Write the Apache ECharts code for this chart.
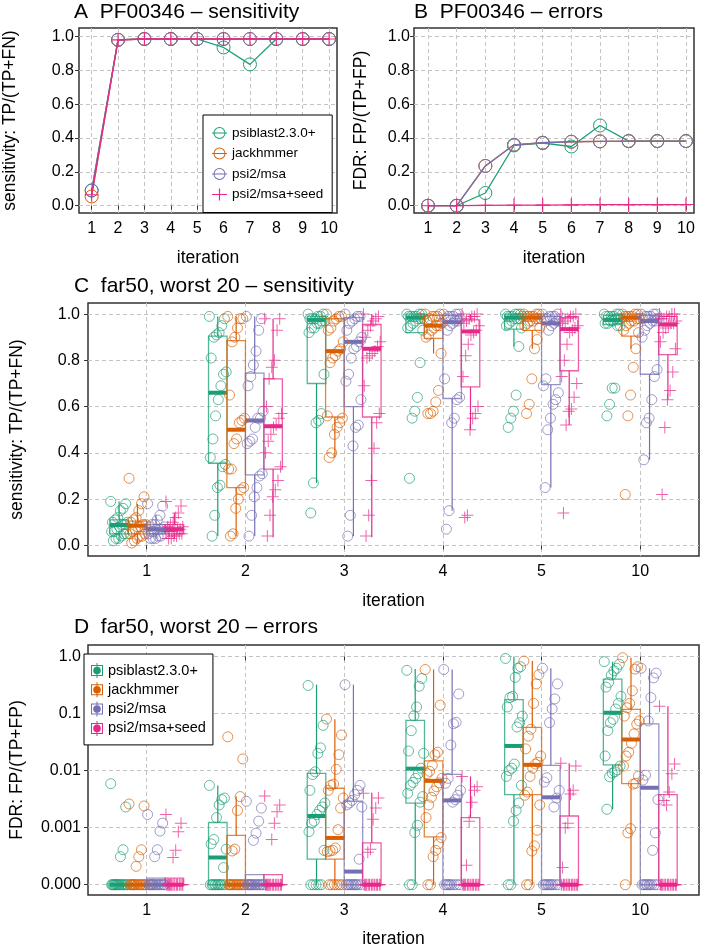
<!DOCTYPE html>
<html><head><meta charset="utf-8">
<script src="https://cdn.jsdelivr.net/npm/echarts@6/dist/echarts.min.js"></script>
<style>html,body{margin:0;padding:0;background:#fff}#c{width:702px;height:949px}</style>
</head><body><div id="c"></div>
<script>
// ---------------- data ----------------
const methodNames = ['psiblast2.3.0+', 'jackhmmer', 'psi2/msa', 'psi2/msa+seed'];

// Panel A / B (PF00346)
const iterA = [1, 2, 3, 4, 5, 6, 7, 8, 9, 10];
const aPsiblast = [0.09, 0.98, 0.985, 0.985, 0.985, 0.935, 0.835, 0.985, 0.985, 0.985];
const aJack     = [0.055, 0.98, 0.985, 0.985, 0.985, 0.985, 0.985, 0.985, 0.985, 0.985];
const aPsi2     = [0.09, 0.98, 0.985, 0.985, 0.985, 0.985, 0.985, 0.985, 0.985, 0.985];
const aSeed     = [0.065, 0.98, 0.985, 0.985, 0.985, 0.985, 0.985, 0.985, 0.985, 0.985];
const bPsiblast = [0, 0, 0.075, 0.356, 0.37, 0.35, 0.474, 0.382, 0.382, 0.382];
const bJack     = [0, 0, 0.235, 0.36, 0.372, 0.378, 0.38, 0.382, 0.382, 0.382];
const bPsi2     = [0, 0, 0.235, 0.36, 0.372, 0.378, 0.38, 0.382, 0.382, 0.382];
const bSeed     = [0, 0, 0.002, 0.003, 0.004, 0.005, 0.006, 0.006, 0.006, 0.007];
const yTicksAB  = [0, 0.2, 0.4, 0.6, 0.8, 1.0];

// Panels C / D (far50, worst 20): iteration categories
const iterC = ['1', '2', '3', '4', '5', '10'];

// C: sensitivity points per iteration
const cPsiblast = [
  [0.19,0.18,0.16,0.15,0.12,0.11,0.10,0.10,0.09,0.09,0.08,0.07,0.06,0.06,0.05,0.05,0.04,0.03,0.03,0.02],
  [0.99,0.98,0.95,0.92,0.91,0.90,0.81,0.75,0.74,0.69,0.63,0.56,0.46,0.38,0.35,0.34,0.26,0.25,0.13,0.04],
  [1.0,1.0,0.99,0.99,0.98,0.98,0.98,0.97,0.97,0.96,0.96,0.94,0.94,0.92,0.74,0.57,0.54,0.53,0.27,0.14],
  [1.0,1.0,1.0,0.99,0.99,0.99,0.99,0.98,0.98,0.98,0.97,0.96,0.95,0.94,0.93,0.79,0.64,0.58,0.55,0.29],
  [1.0,1.0,1.0,1.0,0.99,0.99,0.99,0.99,0.98,0.98,0.98,0.97,0.96,0.95,0.94,0.86,0.65,0.58,0.55,0.51],
  [1.0,1.0,1.0,0.99,0.99,0.99,0.99,0.98,0.98,0.98,0.97,0.97,0.96,0.96,0.95,0.95,0.68,0.68,0.61,0.56]
];
const cJack = [
  [0.29,0.21,0.18,0.15,0.12,0.11,0.10,0.09,0.09,0.08,0.08,0.07,0.06,0.05,0.05,0.04,0.04,0.03,0.02,0.01],
  [0.99,0.98,0.98,0.94,0.90,0.88,0.65,0.55,0.54,0.53,0.46,0.44,0.33,0.33,0.25,0.24,0.20,0.16,0.05,0.04],
  [1.0,0.99,0.99,0.98,0.97,0.94,0.93,0.88,0.85,0.84,0.82,0.81,0.79,0.56,0.55,0.53,0.51,0.48,0.40,0.38],
  [1.0,1.0,0.99,0.99,0.99,0.98,0.97,0.96,0.95,0.95,0.94,0.93,0.91,0.90,0.83,0.67,0.62,0.58,0.57,0.57],
  [1.0,1.0,1.0,0.99,0.99,0.99,0.99,0.98,0.98,0.98,0.97,0.97,0.96,0.95,0.94,0.89,0.85,0.72,0.61,0.57],
  [1.0,1.0,1.0,0.99,0.99,0.99,0.99,0.98,0.98,0.97,0.97,0.96,0.95,0.93,0.92,0.85,0.77,0.65,0.56,0.22]
];
const cPsi2 = [
  [0.18,0.17,0.13,0.11,0.09,0.09,0.08,0.08,0.07,0.07,0.07,0.06,0.06,0.05,0.05,0.04,0.04,0.03,0.03,0.03],
  [0.99,0.98,0.93,0.84,0.78,0.73,0.69,0.58,0.55,0.55,0.51,0.46,0.45,0.44,0.31,0.30,0.25,0.21,0.13,0.04],
  [1.0,0.99,0.99,0.98,0.97,0.96,0.93,0.90,0.88,0.86,0.85,0.81,0.74,0.71,0.63,0.52,0.51,0.43,0.13,0.04],
  [1.0,1.0,1.0,0.99,0.99,0.99,0.98,0.98,0.97,0.97,0.96,0.95,0.93,0.72,0.64,0.63,0.55,0.53,0.15,0.07],
  [1.0,1.0,0.99,0.99,0.99,0.98,0.98,0.97,0.97,0.96,0.95,0.93,0.72,0.69,0.66,0.63,0.61,0.55,0.50,0.25],
  [1.0,1.0,1.0,0.99,0.99,0.99,0.98,0.98,0.97,0.97,0.96,0.95,0.93,0.90,0.76,0.73,0.63,0.55,0.53,0.37]
];
const cSeed = [
  [0.19,0.17,0.14,0.12,0.10,0.09,0.08,0.08,0.07,0.07,0.07,0.06,0.06,0.06,0.05,0.05,0.04,0.04,0.03,0.03],
  [0.98,0.98,0.93,0.80,0.77,0.72,0.60,0.57,0.55,0.52,0.51,0.48,0.45,0.40,0.34,0.28,0.24,0.21,0.13,0.04],
  [1.0,0.99,0.98,0.97,0.95,0.93,0.90,0.88,0.86,0.84,0.83,0.82,0.81,0.69,0.57,0.53,0.42,0.28,0.13,0.04],
  [1.0,1.0,0.99,0.99,0.98,0.97,0.96,0.95,0.93,0.92,0.91,0.87,0.82,0.73,0.60,0.57,0.55,0.50,0.13,0.12],
  [1.0,1.0,0.99,0.99,0.98,0.97,0.96,0.95,0.94,0.93,0.92,0.87,0.80,0.73,0.70,0.64,0.59,0.58,0.52,0.14],
  [1.0,1.0,1.0,0.99,0.99,0.98,0.98,0.97,0.96,0.96,0.95,0.94,0.92,0.88,0.85,0.75,0.67,0.63,0.51,0.22]
];
// C: box statistics [lower whisker, Q1, median, Q3, upper whisker]
const cPsiblastBox = [[0.02,0.05,0.088,0.11,0.19],[0.04,0.355,0.66,0.905,0.99],[0.27,0.70,0.975,0.99,1.0],[0.92,0.92,0.985,1.0,1.0],[0.86,0.935,0.985,1.0,1.0],[0.95,0.955,0.975,0.995,1.0]];
const cJackBox     = [[0.01,0.05,0.085,0.105,0.18],[0.04,0.25,0.50,0.885,0.99],[0.38,0.555,0.84,0.98,1.0],[0.83,0.895,0.95,0.995,1.0],[0.85,0.93,0.985,1.0,1.0],[0.85,0.905,0.985,1.0,1.0]];
const cPsi2Box     = [[0.03,0.05,0.07,0.09,0.13],[0.04,0.305,0.54,0.745,0.99],[0.04,0.60,0.88,0.985,1.0],[0.15,0.635,0.965,0.995,1.0],[0.25,0.695,0.96,0.99,1.0],[0.37,0.74,0.97,0.995,1.0]];
const cSeedBox     = [[0.03,0.05,0.07,0.09,0.14],[0.035,0.33,0.515,0.72,0.98],[0.035,0.555,0.85,0.955,1.0],[0.50,0.685,0.925,0.975,1.0],[0.52,0.755,0.935,0.985,1.0],[0.63,0.825,0.955,0.99,1.0]];

// D: FDR points per iteration (0 = no false positives)
const dPsiblast = [
  [0.0059,0.0023,0.00041,0.00031,0,0,0,0,0,0,0,0,0,0,0,0,0,0,0,0],
  [0.0055,0.0033,0.0031,0.0025,0.0015,0.00062,0.00052,0.00042,0.0002,0,0,0,0,0,0,0,0,0,0,0],
  [0.31,0.062,0.025,0.020,0.0095,0.0085,0.0045,0.0027,0.0023,0.0020,0.0017,0.0013,0.0012,0.00085,0.0004,0,0,0,0,0],
  [0.57,0.41,0.30,0.13,0.091,0.050,0.022,0.020,0.011,0.0088,0.0073,0.0062,0.0055,0.0040,0.0035,0.0028,0.0011,0.00082,0,0],
  [0.92,0.66,0.62,0.43,0.20,0.19,0.13,0.09,0.069,0.058,0.013,0.011,0.010,0.0079,0.0055,0.0027,0.0020,0.0013,0,0],
  [0.81,0.73,0.62,0.56,0.47,0.35,0.29,0.20,0.15,0.12,0.079,0.069,0.05,0.018,0.012,0.0103,0.0095,0.009,0.0078,0.0021]
];
const dJack = [
  [0.0026,0.0024,0.00041,0.00031,0.00021,0,0,0,0,0,0,0,0,0,0,0,0,0,0,0],
  [0.039,0.016,0.0035,0.0020,0.00042,0.00039,0,0,0,0,0,0,0,0,0,0,0,0,0,0],
  [0.08,0.042,0.019,0.0105,0.0058,0.0055,0.0045,0.0033,0.0022,0.00092,0.00044,0.0004,0.00039,0.00038,0,0,0,0,0,0],
  [0.59,0.14,0.021,0.019,0.0124,0.0097,0.0088,0.0073,0.0061,0.0052,0.0044,0.0034,0.0025,0.0015,0.00067,0.00052,0.00040,0.00031,0,0],
  [0.83,0.48,0.33,0.15,0.053,0.040,0.024,0.018,0.014,0.013,0.011,0.0079,0.0042,0.0037,0.0025,0.0009,0.00048,0.00039,0,0],
  [0.95,0.66,0.60,0.25,0.15,0.126,0.09,0.074,0.065,0.044,0.03,0.021,0.018,0.012,0.008,0.006,0.0058,0.00096,0.00081,0]
];
const dPsi2 = [
  [0.0017,0.0012,0.00087,0.00041,0.00031,0,0,0,0,0,0,0,0,0,0,0,0,0,0,0],
  [0.0029,0.0022,0.0013,0.0008,0.0006,0,0,0,0,0,0,0,0,0,0,0,0,0,0,0],
  [0.32,0.0055,0.0045,0.0038,0.0030,0.0027,0.0025,0.0023,0.00028,0,0,0,0,0,0,0,0,0,0,0],
  [0.59,0.22,0.07,0.066,0.028,0.0073,0.006,0.0045,0.0037,0.0031,0.0028,0,0,0,0,0,0,0,0,0],
  [0.62,0.33,0.18,0.12,0.069,0.0075,0.0063,0.0045,0.0033,0.0023,0,0,0,0,0,0,0,0,0,0],
  [0.62,0.51,0.42,0.19,0.074,0.0083,0.0068,0.0031,0.00081,0.0004,0,0,0,0,0,0,0,0,0,0]
];
const dSeed = [
  [0.0017,0.0012,0.00085,0.0004,0.0003,0,0,0,0,0,0,0,0,0,0,0,0,0,0,0],
  [0.0036,0.0025,0.0019,0.0012,0.00062,0,0,0,0,0,0,0,0,0,0,0,0,0,0,0],
  [0.0040,0.0033,0.0022,0.0014,0.00042,0.00037,0,0,0,0,0,0,0,0,0,0,0,0,0,0],
  [0.0079,0.0052,0.0045,0.0028,0.0013,0.00022,0,0,0,0,0,0,0,0,0,0,0,0,0,0],
  [0.0135,0.012,0.0045,0.0039,0.0012,0.001,0.0002,0,0,0,0,0,0,0,0,0,0,0,0,0],
  [0.134,0.013,0.0088,0.0042,0.0025,0.003,0,0,0,0,0,0,0,0,0,0,0,0,0,0]
];
const dPsiblastBox = [[0,0,0,0,0],[0,0,0.0003,0.00123,0.0055],[0,0.00028,0.0016,0.0089,0.32],[0,0.0027,0.0108,0.076,0.6],[0,0.0038,0.027,0.175,1.0],[0.0021,0.0126,0.103,0.40,0.81]];
const dJackBox     = [[0,0,0,0,0],[0,0,0,0.00073,0.0035],[0,0.00028,0.00066,0.0049,0.079],[0,0.00069,0.0066,0.0148,0.59],[0,0.0038,0.0126,0.057,0.83],[0,0.0059,0.035,0.118,0.95]];
const dPsi2Box     = [[0,0,0,0.00013,0.00013],[0,0,0,0.00015,0.00015],[0,0,0.00017,0.0029,0.32],[0,0,0.003,0.0086,0.59],[0,0,0.0034,0.0123,0.62],[0,0,0.005,0.066,0.62]];
const dSeedBox     = [[0,0,0,0.00013,0.00013],[0,0,0,0.00015,0.00015],[0,0,0,0.00054,0.0041],[0,0,0,0.0015,0.0079],[0,0,0,0.0016,0.0135],[0,0,0,0.0038,0.134]];
const dTickPos    = [-4, -3, -2, -1, 0];
const dTickLabels = ['0.000', '0.001', '0.01', '0.1', '1.0'];

// ---------------- drawing ----------------
const FONT = '"Liberation Sans", Arial, Helvetica, sans-serif';
const colors = ['#1B9E77', '#D95F02', '#7570B3', '#E7298A'];
function rgba(hex, a) {
  const n = parseInt(hex.slice(1), 16);
  return 'rgba(' + (n >> 16) + ',' + ((n >> 8) & 255) + ',' + (n & 255) + ',' + a + ')';
}
const PLUS = 'path://M0 5.5h12v1H0z M5.5 0h1v12h-1z';
const LEG_RING = 'path://M1.5 6a6 6 0 1 1 12 0a6 6 0 1 1 -12 0z M2.5 6a5 5 0 1 0 10 0a5 5 0 1 0 -10 0z M0 5.4h15v1.2H0z';
const LEG_PLUS = 'path://M0 5.4h15v1.2H0z M6.9 0h1.2v12H6.9z';
const LEG_BOX = 'path://M0 2h12v1H0z M0 12h12v1H0z M0 2h1v11H0z M11 2h1v11h-1z M2.2 7.5a3.8 3.8 0 1 1 7.6 0a3.8 3.8 0 1 1 -7.6 0z M5.5 0h1v15h-1z';

const fdrPos = v => (v > 0 ? Math.log10(v) : -4);
const groupOffset = [-0.28, -0.094, 0.094, 0.28];
const halfBox = 0.094;
const jitter = i => (((i * 37) % 20) / 19 - 0.5) * 0.17;

const gridStyle = { color: '#c4c4c4', type: [4, 3], width: 1 };
function axis(gridIndex, min, max, ticks, fmt, name, nameGap, margin, isX) {
  return {
    type: 'value', gridIndex, min, max,
    axisLine: { show: false },
    axisTick: { show: true, customValues: ticks, length: 4, lineStyle: { color: '#333' } },
    axisLabel: { customValues: ticks, formatter: fmt, margin, fontSize: 16, color: '#000', fontFamily: FONT, hideOverlap: false },
    splitLine: { show: true, lineStyle: gridStyle },
    name, nameLocation: 'middle', nameGap,
    nameTextStyle: { fontSize: 17.5, color: '#000', fontFamily: FONT },
    nameRotate: isX ? 0 : 90
  };
}
const fmt1 = v => v.toFixed(1);
const iterFmt = v => iterC[Math.round(v) - 1];
const dFmt = v => dTickLabels[dTickPos.indexOf(Math.round(v))];

const grids = [
  { left: 73, top: 28, width: 264, height: 185 },
  { left: 414, top: 28, width: 280, height: 185 },
  { left: 75, top: 303, width: 624, height: 253 },
  { left: 75, top: 645, width: 624, height: 253 }
].map(g => Object.assign(g, { show: true, borderColor: '#333', borderWidth: 1.5, backgroundColor: 'transparent', containLabel: false }));

const xAxes = [
  axis(0, 0.52, 10.3, iterA, v => String(Math.round(v)), 'iteration', 36, 8, true),
  axis(1, 0.51, 10.28, iterA, v => String(Math.round(v)), 'iteration', 36, 8, true),
  axis(2, 0.405, 6.595, [1, 2, 3, 4, 5, 6], iterFmt, 'iteration', 36, 8, true),
  axis(3, 0.405, 6.595, [1, 2, 3, 4, 5, 6], iterFmt, 'iteration', 35, 8, true)
];
const yAxes = [
  axis(0, -0.043, 1.05, yTicksAB, fmt1, 'sensitivity: TP/(TP+FN)', 60, 5, false),
  axis(1, -0.043, 1.05, yTicksAB, fmt1, 'FDR: FP/(TP+FP)', 44, 4, false),
  axis(2, -0.046, 1.048, yTicksAB, fmt1, 'sensitivity: TP/(TP+FN)', 62, 8, false),
  axis(3, -4.18, 0.2, dTickPos, dFmt, 'FDR: FP/(TP+FP)', 62, 7, false)
];

const series = [];
const aVals = [aPsiblast, aJack, aPsi2, aSeed];
const bVals = [bPsiblast, bJack, bPsi2, bSeed];
[aVals, bVals].forEach((set, gi) => {
  set.forEach((vals, k) => {
    const c = colors[k];
    series.push({
      type: 'line', name: methodNames[k], xAxisIndex: gi, yAxisIndex: gi,
      data: iterA.map((x, i) => [x, vals[i]]),
      symbol: k === 3 ? PLUS : 'circle', symbolSize: k === 3 ? 14 : 13,
      lineStyle: { color: c, width: 1.3 },
      itemStyle: k === 3 ? { color: c } : { color: 'rgba(0,0,0,0)', borderColor: c, borderWidth: 1 },
      z: 3 + k, silent: true
    });
  });
});

function boxRenderer(c) {
  return function (params, api) {
    const x = api.value(0);
    const lo = api.coord([x, api.value(1)]);
    const q1 = api.coord([x, api.value(2)]);
    const md = api.coord([x, api.value(3)]);
    const q3 = api.coord([x, api.value(4)]);
    const hi = api.coord([x, api.value(5)]);
    const xl = api.coord([x - halfBox, api.value(3)])[0];
    const xr = api.coord([x + halfBox, api.value(3)])[0];
    const cx = md[0];
    return {
      type: 'group',
      children: [
        { type: 'line', shape: { x1: cx, y1: q3[1], x2: cx, y2: hi[1] }, style: { stroke: c, lineWidth: 1.2 } },
        { type: 'line', shape: { x1: cx, y1: q1[1], x2: cx, y2: lo[1] }, style: { stroke: c, lineWidth: 1.2 } },
        { type: 'rect', shape: { x: xl, y: q3[1], width: xr - xl, height: q1[1] - q3[1] }, style: { fill: 'none', stroke: rgba(c, 0.75), lineWidth: 1.3 } },
        { type: 'line', shape: { x1: xl, y1: md[1], x2: xr, y2: md[1] }, style: { stroke: c, lineWidth: 4 } }
      ]
    };
  };
}

const cPts = [cPsiblast, cJack, cPsi2, cSeed];
const cBox = [cPsiblastBox, cJackBox, cPsi2Box, cSeedBox];
const dPts = [dPsiblast, dJack, dPsi2, dSeed];
const dBox = [dPsiblastBox, dJackBox, dPsi2Box, dSeedBox];
[[cPts, cBox, v => v, 2], [dPts, dBox, fdrPos, 3]].forEach(([pts, boxes, tf, gi]) => {
  boxes.forEach((b, k) => {
    series.push({
      type: 'custom', name: methodNames[k], xAxisIndex: gi, yAxisIndex: gi,
      data: b.map((s, i) => [i + 1 + groupOffset[k]].concat(s.map(tf))),
      renderItem: boxRenderer(colors[k]), encode: { x: 0, y: [1, 2, 3, 4, 5] },
      clip: false, z: 2, silent: true
    });
  });
  pts.forEach((iters, k) => {
    const c = colors[k];
    const data = [];
    iters.forEach((vals, i) => vals.forEach((v, j) => data.push([i + 1 + groupOffset[k] + jitter(j), tf(v)])));
    series.push({
      type: 'scatter', name: methodNames[k], xAxisIndex: gi, yAxisIndex: gi, data,
      symbol: k === 3 ? PLUS : 'circle', symbolSize: k === 3 ? 12 : 10,
      itemStyle: k === 3 ? { color: rgba(c, 0.9) } : { color: 'rgba(0,0,0,0)', borderColor: rgba(c, 0.85), borderWidth: 1 },
      z: 4, silent: true
    });
  });
});

const titleStyle = { fontSize: 21, fontWeight: 'normal', color: '#000', fontFamily: FONT };
const option = {
  animation: false,
  backgroundColor: '#fff',
  title: [
    { text: 'A  PF00346 – sensitivity', left: 74, top: 2, padding: 0, textStyle: titleStyle },
    { text: 'B  PF00346 – errors', left: 414, top: 2, padding: 0, textStyle: titleStyle },
    { text: 'C  far50, worst 20 – sensitivity', left: 74, top: 276, padding: 0, textStyle: titleStyle },
    { text: 'D  far50, worst 20 – errors', left: 74, top: 617, padding: 0, textStyle: titleStyle }
  ],
  legend: [
    {
      selectedMode: false, orient: 'vertical', left: 203, top: 115, padding: [11, 9, 11, 9],
      itemGap: 6.5, itemWidth: 15, itemHeight: 12, borderColor: '#000', borderWidth: 1, backgroundColor: '#fff',
      textStyle: { fontSize: 13.5, fontFamily: FONT, color: '#000' }, z: 10,
      data: methodNames.map((n, k) => ({ name: n, icon: k === 3 ? LEG_PLUS : LEG_RING, itemStyle: { color: colors[k], borderWidth: 0, opacity: 1 } }))
    },
    {
      selectedMode: false, orient: 'vertical', left: 84, top: 654, padding: [9, 7, 9, 7],
      itemGap: 4.3, itemWidth: 12, itemHeight: 15, borderColor: '#000', borderWidth: 1, backgroundColor: '#fff',
      textStyle: { fontSize: 14.5, fontFamily: FONT, color: '#000' }, z: 10,
      data: methodNames.map((n, k) => ({ name: n, icon: LEG_BOX, itemStyle: { color: colors[k], borderWidth: 0, opacity: 1 } }))
    }
  ],
  grid: grids,
  xAxis: xAxes,
  yAxis: yAxes,
  series
};
const chart = echarts.init(document.getElementById('c'), null, { renderer: 'canvas' });
chart.setOption(option);
</script>
</body></html>
